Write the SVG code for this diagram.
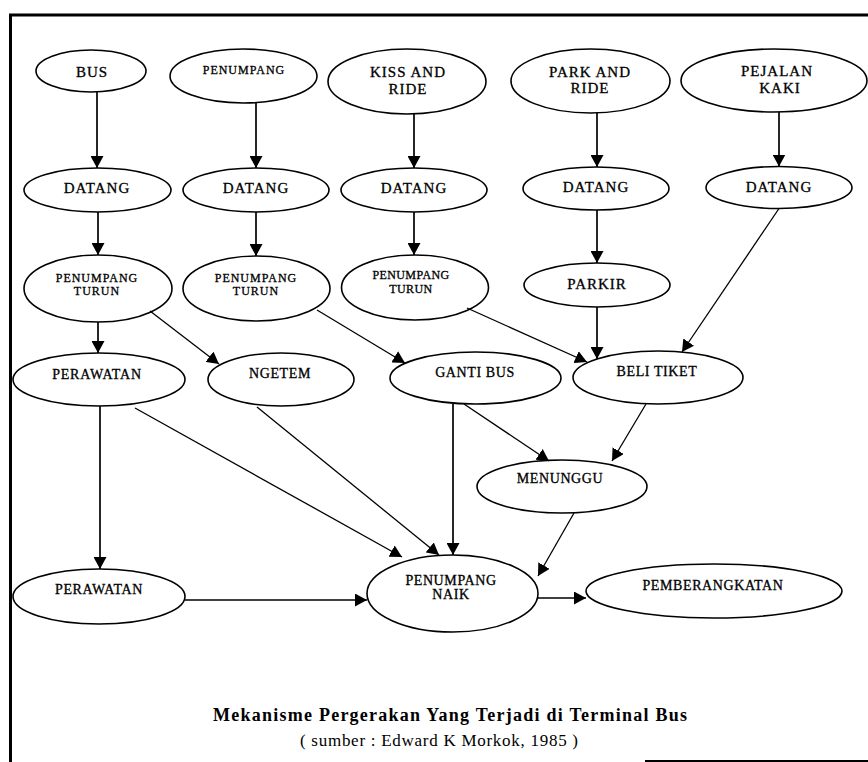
<svg xmlns="http://www.w3.org/2000/svg" width="868" height="762" viewBox="0 0 868 762">
  <style>
    .node ellipse { fill: #ffffff; stroke: #000000; stroke-width: 1.6; }
    .node text { font-family: "Liberation Serif", "Times New Roman", serif; fill: #000000; stroke: #000000; stroke-width: 0.3; text-anchor: middle; }
    .lg { font-size: 15px; letter-spacing: 1px; }
    .sm { font-size: 12px; letter-spacing: 1px; }
    .md { font-size: 14px; letter-spacing: 0.6px; }
    .edge { fill: none; stroke: #000000; stroke-width: 1.3; marker-end: url(#arrow); }
    .edge.v { stroke-width: 1.7; }
    .frame { stroke: #000000; fill: none; }
    .caption { font-family: "Liberation Serif", "Times New Roman", serif; fill: #000000; text-anchor: middle; }
  </style>
  <defs>
    <marker id="arrow" markerUnits="userSpaceOnUse" markerWidth="13" markerHeight="13" refX="12" refY="6.5" orient="auto">
      <path d="M0,0 L12,6.5 L0,13 z" fill="#000000"/>
    </marker>
  </defs>

  <rect width="868" height="762" fill="#ffffff"/>

  <!-- frame -->
  <g id="frame">
    <line class="frame" x1="9" y1="15" x2="868" y2="15" stroke-width="3"/>
    <line class="frame" x1="10.5" y1="14" x2="10.5" y2="762" stroke-width="3"/>
    <line class="frame" x1="645" y1="761" x2="868" y2="761" stroke-width="2"/>
  </g>

  <!-- row 1: origins -->
  <g id="n-bus" class="node">
    <ellipse cx="91" cy="71" rx="55" ry="21"/>
    <text class="lg" x="92" y="77">BUS</text>
  </g>
  <g id="n-penumpang" class="node">
    <ellipse cx="243.5" cy="76" rx="73.5" ry="27"/>
    <text class="sm" x="244" y="74">PENUMPANG</text>
  </g>
  <g id="n-kiss" class="node">
    <ellipse cx="407" cy="81.5" rx="79" ry="32.5"/>
    <text class="lg" x="408" y="77">KISS AND</text>
    <text class="lg" x="408" y="94">RIDE</text>
  </g>
  <g id="n-park" class="node">
    <ellipse cx="590.5" cy="81" rx="79.5" ry="32"/>
    <text class="lg" x="590" y="77">PARK AND</text>
    <text class="lg" x="590" y="93">RIDE</text>
  </g>
  <g id="n-pejalan" class="node">
    <ellipse cx="774" cy="80.5" rx="93" ry="31.5"/>
    <text class="lg" x="777" y="76">PEJALAN</text>
    <text class="lg" x="780" y="93">KAKI</text>
  </g>

  <!-- row 2: arrival -->
  <g id="n-datang1" class="node">
    <ellipse cx="97.5" cy="190" rx="73.5" ry="22"/>
    <text class="lg" x="97" y="193">DATANG</text>
  </g>
  <g id="n-datang2" class="node">
    <ellipse cx="256" cy="190" rx="73" ry="22"/>
    <text class="lg" x="256" y="193">DATANG</text>
  </g>
  <g id="n-datang3" class="node">
    <ellipse cx="414" cy="190" rx="73" ry="22"/>
    <text class="lg" x="414" y="193">DATANG</text>
  </g>
  <g id="n-datang4" class="node">
    <ellipse cx="596" cy="188.5" rx="73" ry="21.5"/>
    <text class="lg" x="596" y="192">DATANG</text>
  </g>
  <g id="n-datang5" class="node">
    <ellipse cx="779" cy="187.5" rx="73" ry="21"/>
    <text class="lg" x="779" y="192">DATANG</text>
  </g>

  <!-- row 3 -->
  <g id="n-turun1" class="node">
    <ellipse cx="98" cy="288.5" rx="74" ry="33.5"/>
    <text class="sm" x="97" y="282">PENUMPANG</text>
    <text class="sm" x="97" y="295">TURUN</text>
  </g>
  <g id="n-turun2" class="node">
    <ellipse cx="256.5" cy="288.5" rx="73.5" ry="32.5"/>
    <text class="sm" x="256" y="282">PENUMPANG</text>
    <text class="sm" x="256" y="295">TURUN</text>
  </g>
  <g id="n-turun3" class="node">
    <ellipse cx="415" cy="287.5" rx="73.5" ry="32.5"/>
    <text class="sm" x="411" y="279" style="letter-spacing:0.4px">PENUMPANG</text>
    <text class="sm" x="411" y="293" style="letter-spacing:0.4px">TURUN</text>
  </g>
  <g id="n-parkir" class="node">
    <ellipse cx="597" cy="285" rx="73" ry="22"/>
    <text class="lg" x="597" y="289">PARKIR</text>
  </g>

  <!-- row 4 -->
  <g id="n-perawatan1" class="node">
    <ellipse cx="99" cy="379.5" rx="86" ry="26.5"/>
    <text class="md" x="97" y="379" style="letter-spacing:0.8px">PERAWATAN</text>
  </g>
  <g id="n-ngetem" class="node">
    <ellipse cx="281" cy="379.5" rx="73" ry="26.5"/>
    <text class="md" x="280" y="378">NGETEM</text>
  </g>
  <g id="n-gantibus" class="node">
    <ellipse cx="475.5" cy="378" rx="85.5" ry="26"/>
    <text class="md" x="475" y="377">GANTI BUS</text>
  </g>
  <g id="n-belitiket" class="node">
    <ellipse cx="658" cy="377.5" rx="85" ry="26.5"/>
    <text class="md" x="657" y="376">BELI TIKET</text>
  </g>

  <!-- row 5 -->
  <g id="n-menunggu" class="node">
    <ellipse cx="562" cy="486.5" rx="85" ry="26.5"/>
    <text class="md" x="560" y="483">MENUNGGU</text>
  </g>

  <!-- row 6 -->
  <g id="n-perawatan2" class="node">
    <ellipse cx="99" cy="596.5" rx="86" ry="27.5"/>
    <text class="md" x="99" y="594">PERAWATAN</text>
  </g>
  <g id="n-naik" class="node">
    <ellipse cx="452.5" cy="593.5" rx="85.5" ry="38.5"/>
    <text class="md" x="451" y="585">PENUMPANG</text>
    <text class="md" x="451" y="599">NAIK</text>
  </g>
  <g id="n-berangkat" class="node">
    <ellipse cx="714" cy="591" rx="128" ry="27"/>
    <text class="md" x="713" y="590">PEMBERANGKATAN</text>
  </g>

  <!-- connectors -->
  <g id="connectors">
    <line class="edge v" x1="97" y1="92" x2="97" y2="168"/>
    <line class="edge v" x1="256" y1="103" x2="256" y2="168"/>
    <line class="edge v" x1="414" y1="114" x2="414" y2="168"/>
    <line class="edge v" x1="597" y1="113" x2="597" y2="167"/>
    <line class="edge v" x1="779" y1="112" x2="779" y2="166.5"/>

    <line class="edge v" x1="98" y1="212" x2="98" y2="255"/>
    <line class="edge v" x1="256" y1="212" x2="256" y2="256"/>
    <line class="edge v" x1="414" y1="212" x2="414" y2="255"/>
    <line class="edge v" x1="597" y1="210" x2="597" y2="263"/>
    <line class="edge" x1="779" y1="208.5" x2="682" y2="352"/>

    <line class="edge v" x1="98" y1="322" x2="98" y2="353"/>
    <line class="edge" x1="150" y1="311" x2="219" y2="364"/>
    <line class="edge" x1="317" y1="310" x2="405" y2="363"/>
    <line class="edge" x1="467" y1="308" x2="587" y2="362"/>
    <line class="edge v" x1="597" y1="307" x2="597" y2="359"/>

    <line class="edge" x1="464" y1="404" x2="549" y2="461"/>
    <line class="edge" x1="646" y1="404" x2="612" y2="461"/>

    <line class="edge v" x1="100" y1="406" x2="100" y2="569"/>
    <line class="edge" x1="135" y1="408" x2="402" y2="557"/>
    <line class="edge" x1="257" y1="407" x2="439" y2="555"/>
    <line class="edge v" x1="453" y1="404" x2="453" y2="555"/>
    <line class="edge" x1="574" y1="513" x2="538" y2="576"/>

    <line class="edge" x1="185" y1="600" x2="367" y2="600"/>
    <line class="edge" x1="538" y1="598" x2="586" y2="598"/>
  </g>

  <!-- caption -->
  <g id="caption">
    <text class="caption" x="450" y="721" font-size="18" font-weight="bold" textLength="474" lengthAdjust="spacing">Mekanisme Pergerakan Yang Terjadi di Terminal Bus</text>
    <text class="caption" x="439" y="746" font-size="17" textLength="278" lengthAdjust="spacing">( sumber : Edward K Morkok, 1985 )</text>
  </g>
</svg>
